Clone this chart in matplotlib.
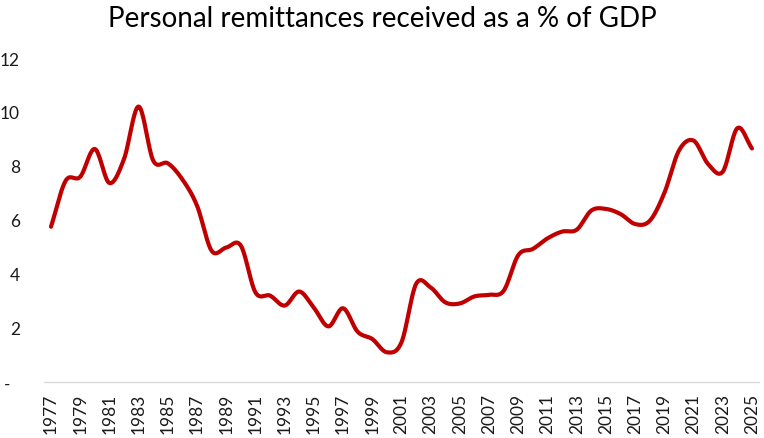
import numpy as np
import matplotlib
matplotlib.use("Agg")
import matplotlib.pyplot as plt
import matplotlib.transforms as mtransforms
from matplotlib.ticker import FuncFormatter

years = list(range(1977, 2026))
remit_pct_gdp = [
    5.75, 7.45, 7.6, 8.63, 7.37, 8.26, 10.2, 8.2, 8.1, 7.5,
    6.53, 4.86, 4.98, 5.05, 3.32, 3.2, 2.83, 3.35, 2.75, 2.06,
    2.73, 1.86, 1.59, 1.1, 1.47, 3.63, 3.5, 2.95, 2.91, 3.17,
    3.23, 3.38, 4.7, 4.93, 5.32, 5.57, 5.64, 6.35, 6.41, 6.22,
    5.85, 5.97, 7.0, 8.57, 8.94, 8.07, 7.79, 9.4, 8.65,
]
y_ticks = [0, 2, 4, 6, 8, 10, 12]
x_tick_years = years[::2]
title = "Personal remittances received as a % of GDP"


def catmull_rom(x, y, n=20):
    x = np.asarray(x, float)
    y = np.asarray(y, float)
    px = np.concatenate([[2 * x[0] - x[1]], x, [2 * x[-1] - x[-2]]])
    py = np.concatenate([[2 * y[0] - y[1]], y, [2 * y[-1] - y[-2]]])
    xs, ys = [], []
    t = np.linspace(0, 1, n, endpoint=False)
    for i in range(1, len(px) - 2):
        for arr, out in ((px, xs), (py, ys)):
            p0, p1, p2, p3 = arr[i - 1], arr[i], arr[i + 1], arr[i + 2]
            out.append(0.5 * ((2 * p1) + (-p0 + p2) * t
                              + (2 * p0 - 5 * p1 + 4 * p2 - p3) * t ** 2
                              + (-p0 + 3 * p1 - 3 * p2 + p3) * t ** 3))
    xs.append([x[-1]])
    ys.append([y[-1]])
    return np.concatenate(xs), np.concatenate(ys)


plt.rcParams['font.family'] = ['Lato', 'DejaVu Sans']

fig = plt.figure(figsize=(7.64, 4.39), dpi=100)
ax = fig.add_axes([0.0572, 0.1276, 0.9366, 0.738])

sx, sy = catmull_rom(years, remit_pct_gdp)
ax.plot(sx, sy, color='#C00000', lw=3.0, solid_capstyle='round',
        solid_joinstyle='round', clip_on=False)

ax.set_xlim(1976.5, 2025.5)
ax.set_ylim(0, 12)
ax.set_yticks(y_ticks)
ax.yaxis.set_major_formatter(FuncFormatter(lambda v, p: "-" if v == 0 else f"{v:g}"))
ax.set_xticks(x_tick_years)
ax.set_xticklabels([str(y) for y in x_tick_years], rotation=90)

for s in ['top', 'right', 'left']:
    ax.spines[s].set_visible(False)
ax.spines['bottom'].set_color('#D9D9D9')
ax.spines['bottom'].set_linewidth(1.0)
ax.tick_params(axis='y', length=0, pad=17, labelsize=12.5, labelcolor='#1a1a1a')
ax.tick_params(axis='x', length=0, pad=8, labelsize=12.5, labelcolor='#1a1a1a')

zero_lab = ax.yaxis.get_major_ticks()[0].label1
zero_lab.set_transform(zero_lab.get_transform()
                       + mtransforms.ScaledTranslation(-0.1, 0, fig.dpi_scale_trans))

fig.text(0.5, 0.957, title, ha='center', va='center', fontsize=20, color='black')

fig.savefig('out.png', dpi=100, facecolor='white')
